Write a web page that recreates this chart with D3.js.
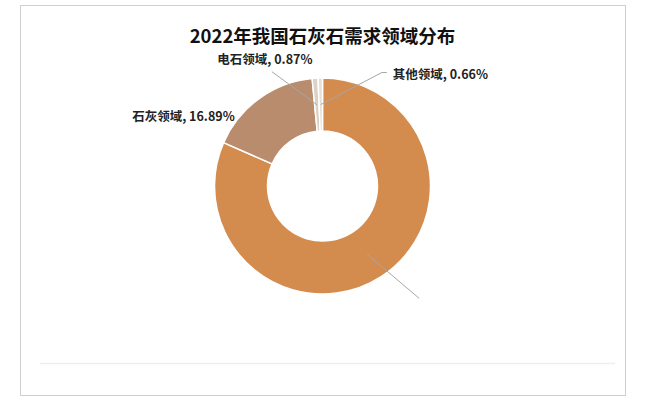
<!DOCTYPE html>
<html>
<head>
<meta charset="utf-8">
<script src="https://cdn.jsdelivr.net/npm/d3@7"></script>
<style>
  body { margin: 0; background: #fff; }
  text { font-family: "Noto Sans CJK SC", "Noto Sans", sans-serif; }
</style>
</head>
<body>
<div id="viz"></div>
<script>
// data
const categories = ["主要领域", "石灰领域", "电石领域", "其他领域"]
const shares = [81.58, 16.89, 0.87, 0.66]
const colors = ["#d38c4e", "#b98c6e", "#dbd1c6", "#e7dfd5"]

const width = 645
const height = 406
const cx = 322.5, cy = 186
const outerR = 108, innerR = 55

// label placement relative to slice centroid (null = no label shown)
const labelCfg = [
    { line: [52, 44], text: null },
    { line: null, text: [-40, 1], anchor: "end" },
    { line: [-45, -33], text: [-7, -8], anchor: "middle" },
    { line: [61, -32], elbow: 5, text: [6, 6], anchor: "start" }
]

const svg = d3.select("#viz").append("svg")
    .attr("width", width)
    .attr("height", height)

// frame
svg.append("rect")
    .attr("x", 20.5).attr("y", 5.5)
    .attr("width", 605).attr("height", 390)
    .attr("fill", "#fff")
    .attr("stroke", "#cfcfcf")
    .attr("stroke-width", 1)

svg.append("line")
    .attr("x1", 40).attr("x2", 615)
    .attr("y1", 363.5).attr("y2", 363.5)
    .attr("stroke", "#eeeeee")
    .attr("stroke-width", 1.5)

svg.append("text")
    .attr("x", cx).attr("y", 43)
    .attr("text-anchor", "middle")
    .attr("font-size", 18.5)
    .attr("font-weight", "bold")
    .attr("fill", "#111")
    .text("2022年我国石灰石需求领域分布")

const data = categories.map((c, i) => ({ name: c, value: shares[i], color: colors[i], cfg: labelCfg[i] }))

const pie = d3.pie().sort(null).value(d => d.value)
const arc = d3.arc().innerRadius(innerR).outerRadius(outerR)

const g = svg.append("g").attr("transform", "translate(" + cx + "," + cy + ")")

const arcs = pie(data)

g.selectAll("path")
    .data(arcs)
    .enter().append("path")
    .attr("d", arc)
    .attr("fill", d => d.data.color)
    .attr("stroke", "#fff")
    .attr("stroke-width", 1.5)

// leader lines + labels
arcs.forEach(function(d) {
    const c = arc.centroid(d)
    const cfg = d.data.cfg
    let end = c
    if (cfg.line) {
        end = [c[0] + cfg.line[0], c[1] + cfg.line[1]]
        const pts = [c, end]
        if (cfg.elbow) {
            end = [end[0] + cfg.elbow, end[1]]
            pts.push(end)
        }
        g.append("path")
            .attr("d", d3.line()(pts))
            .attr("fill", "none")
            .attr("stroke", "#a6a6a6")
            .attr("stroke-width", 1)
    }
    if (cfg.text) {
        g.append("text")
            .attr("x", end[0] + cfg.text[0])
            .attr("y", end[1] + cfg.text[1])
            .attr("text-anchor", cfg.anchor)
            .attr("font-size", 12.5)
            .attr("font-weight", "bold")
            .attr("fill", "#222")
            .text(d.data.name + ", " + d.data.value.toFixed(2) + "%")
    }
})
</script>
</body>
</html>
